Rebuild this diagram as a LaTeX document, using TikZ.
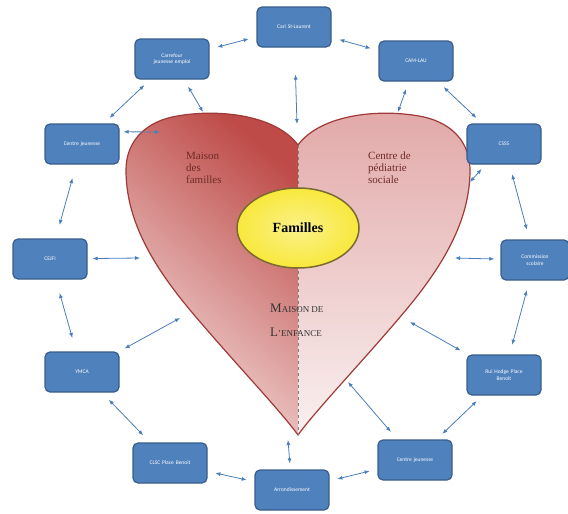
\documentclass[tikz,border=0pt]{standalone}
\usepackage{fontspec}
\setmainfont{Liberation Serif}
\newfontfamily\boxfont{Carlito}
\usetikzlibrary{arrows.meta,shapes.geometric}
\definecolor{boxblue}{HTML}{4F81BD}
\definecolor{boxedge}{HTML}{385D8A}
\definecolor{arrowblue}{HTML}{4A7EBB}
\definecolor{heartdark}{HTML}{BE4B48}
\definecolor{heartlight}{HTML}{F4DEDD}
\definecolor{heartpink}{HTML}{E2A8A8}
\definecolor{heartpale}{HTML}{FAF0F0}
\definecolor{heartline}{HTML}{9E3A38}
\definecolor{labelred}{HTML}{6E2A28}
\definecolor{famyellow}{HTML}{F8E83C}
\definecolor{famedge}{HTML}{7A6A30}
\tikzset{
  orgbox/.style={draw=boxedge, line width=1.2pt, fill=boxblue, rounded corners=5pt,
    minimum width=74pt, minimum height=40pt, text width=64pt, align=center,
    text=white, font=\boxfont\fontsize{5.5}{6.5}\selectfont, inner sep=1pt},
  link/.style={draw=arrowblue, line width=0.8pt, {Latex[length=5pt,width=4pt]}-{Latex[length=5pt,width=4pt]}},
  heartlabel/.style={text=labelred, align=left, font=\fontsize{11}{12}\selectfont, inner sep=0pt, anchor=north west}
}
\begin{document}
\begin{tikzpicture}[x=1pt,y=-1pt]
\useasboundingbox (0,0) rectangle (568,514);
% heart halves
\shade[left color=heartdark, right color=heartlight, shading angle=-40]
  (298,145) .. controls (275,114) and (215,108) .. (172,117)
  .. controls (142,124) and (126,144) .. (126,170)
  .. controls (126,218) and (150,262) .. (190,310)
  .. controls (232,360) and (280,410) .. (298,435) -- cycle;
\shade[top color=heartpink, bottom color=heartpale]
  (298,145) .. controls (321,114) and (381,108) .. (424,117)
  .. controls (454,124) and (470,144) .. (470,170)
  .. controls (470,218) and (446,262) .. (406,310)
  .. controls (364,360) and (316,410) .. (298,435) -- cycle;
\draw[heartline, line width=1.2pt]
  (298,145) .. controls (275,114) and (215,108) .. (172,117)
  .. controls (142,124) and (126,144) .. (126,170)
  .. controls (126,218) and (150,262) .. (190,310)
  .. controls (232,360) and (280,410) .. (298,435)
  .. controls (316,410) and (364,360) .. (406,310)
  .. controls (446,262) and (470,218) .. (470,170)
  .. controls (470,144) and (454,124) .. (424,117)
  .. controls (381,108) and (321,114) .. (298,145) -- cycle;
\coordinate (cleft) at (298,145);
\coordinate (tip) at (298,435);
\draw[gray, dashed, line width=0.6pt] (cleft) -- (tip);
% heart labels
\node[heartlabel] (maisonfam) at (186,152) {Maison\\des\\familles};
\node[heartlabel] (pediatrie) at (368,152) {Centre de\\pédiatrie\\sociale};
\node[text=black!80, align=left, inner sep=0pt, anchor=north west, font=\fontsize{13}{24}\selectfont] (enfance) at (270,304)
  {M{\fontsize{9}{10}\selectfont AISON DE}\\L{\fontsize{9}{10}\selectfont ’ENFANCE}};
\node[ellipse, draw=famedge, line width=1.5pt, inner color=famyellow!60!white, outer color=famyellow,
  minimum width=122pt, minimum height=80pt, font=\bfseries\fontsize{14}{16}\selectfont] (familles) at (298,228) {Familles};
% boxes
\node[orgbox] (cari) at (294,27) {Cari St-Laurent};
\node[orgbox] (cje) at (172,59) {Carrefour\\jeunesse emploi};
\node[orgbox] (camlau) at (416,61) {CAM-LAU};
\node[orgbox] (cjl) at (82,144) {Centre jeunesse};
\node[orgbox] (csss) at (504,144) {CSSS};
\node[orgbox] (cejfi) at (50,259) {CEJFI};
\node[orgbox, minimum width=68pt, text width=60pt] (cs) at (535,260) {Commission\\scolaire};
\node[orgbox] (ymca) at (82,372) {YMCA};
\node[orgbox] (rui) at (504,375) {Rui Hodge Place\\Benoit};
\node[orgbox] (clsc) at (170,463) {CLSC Place Benoit};
\node[orgbox] (arr) at (292,490) {Arrondissement};
\node[orgbox] (cjr) at (415,460) {Centre jeunesse};
% heart contact points
\coordinate (hcje) at (203,112);
\coordinate (hcari) at (297,124);
\coordinate (hcam) at (398,112);
\coordinate (hcjl) at (160,132);
\coordinate (hcsss) at (470,182);
\coordinate (hcejfi) at (140,258);
\coordinate (hcs) at (455,258);
\coordinate (hymca) at (180,318);
\coordinate (hrui) at (410,322);
\coordinate (hcjr) at (348,382);
\coordinate (htip) at (288,440);
% ring links
\draw[link, shorten <=8pt, shorten >=8pt] (cje) -- (cari);
\draw[link, shorten <=8pt, shorten >=8pt] (cari) -- (camlau);
\draw[link, shorten <=8pt, shorten >=8pt] (camlau) -- (csss);
\draw[link, shorten <=10pt, shorten >=10pt] (csss) -- (cs);
\draw[link, shorten <=10pt, shorten >=10pt] (cs) -- (rui);
\draw[link, shorten <=8pt, shorten >=8pt] (rui) -- (cjr);
\draw[link, shorten <=8pt, shorten >=8pt] (cjr) -- (arr);
\draw[link, shorten <=8pt, shorten >=8pt] (arr) -- (clsc);
\draw[link, shorten <=10pt, shorten >=10pt] (clsc) -- (ymca);
\draw[link, shorten <=14pt, shorten >=14pt] (ymca) -- (cejfi);
\draw[link, shorten <=14pt, shorten >=14pt] (cejfi) -- (cjl);
\draw[link, shorten <=8pt, shorten >=8pt] (cjl) -- (cje);
% heart links
\draw[link, shorten <=8pt] (cje) -- (hcje);
\draw[link, shorten <=27pt] (cari) -- (hcari);
\draw[link, shorten <=8pt] (camlau) -- (hcam);
\draw[link, shorten <=4pt] (cjl.18) -- (hcjl);
\draw[link, shorten <=6pt] (csss) -- (hcsss);
\draw[link, shorten <=5pt] (cejfi) -- (hcejfi);
\draw[link, shorten <=6pt] (cs) -- (hcs);
\draw[link, shorten <=6pt] (ymca) -- (hymca);
\draw[link, shorten <=8pt] (rui) -- (hrui);
\draw[link, shorten <=10pt] (cjr) -- (hcjr);
\draw[link, shorten <=6pt] (arr) -- (htip);
\end{tikzpicture}
\end{document}
